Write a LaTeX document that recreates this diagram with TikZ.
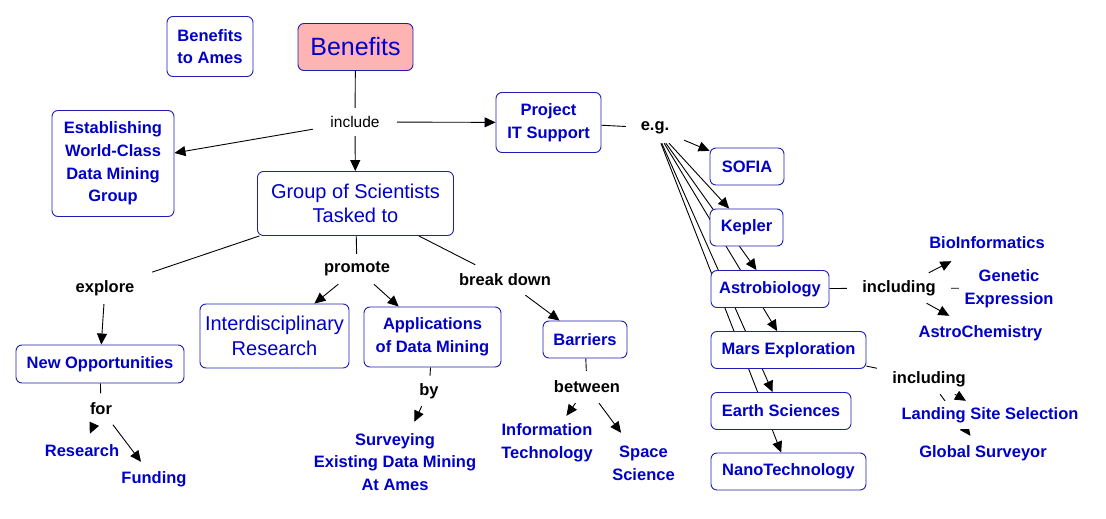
\documentclass[tikz,border=0pt]{standalone}
\usepackage{fontspec}
\setmainfont{Liberation Sans}
\usetikzlibrary{arrows.meta,backgrounds}
\definecolor{cblue}{RGB}{0,0,200}
\definecolor{bblue}{RGB}{30,30,180}
\definecolor{pinkf}{RGB}{255,180,180}
\newcommand\cmfont{\fontsize{16.5}{22.7}\selectfont\bfseries}
\newcommand\rgfont{\fontsize{20}{24.5}\selectfont}
\newcommand\lkfont{\fontsize{16.5}{20}\selectfont\bfseries}
\begin{document}
\begin{tikzpicture}[x=1pt,y=-1pt,
 box/.style={draw=bblue, line width=0.9pt, rounded corners=6pt, fill=white, text=cblue, align=center, inner sep=0pt, font=\cmfont},
 bigbox/.style={box, font=\rgfont},
 free/.style={text=cblue, align=center, inner sep=0pt, font=\cmfont},
 lnk/.style={text=black, align=center, inner sep=0pt, font=\lkfont},
 sz/.style 2 args={minimum width=#1pt, minimum height=#2pt},
 con/.style={line width=0.9pt, black},
 arr/.style={con, -{Triangle[length=11pt,width=10pt]}}
]
\useasboundingbox (0,0) rectangle (1106,519);
% concept boxes
\node[box, sz={86}{60}] (bta) at (210,46.5) {Benefits\\to Ames};
\node[box, fill=pinkf, font=\fontsize{25}{30}\selectfont, sz={115}{47}] (ben) at (355.5,47) {Benefits};
\node[box, sz={122}{106}] (est) at (113,163.5) {Establishing\\World-Class\\Data Mining\\Group};
\node[bigbox, sz={196}{64}] (grp) at (355.5,203.5) {Group of Scientists\\Tasked to};
\node[box, sz={105}{60}] (pit) at (548.5,122.5) {Project\\IT Support};
\node[box, sz={74}{37}] (sofia) at (747,166.5) {SOFIA};
\node[box, sz={73}{37}] (kep) at (746.5,227.5) {Kepler};
\node[box, sz={118}{37}] (ast) at (770,289) {Astrobiology};
\node[box, sz={155}{37}] (mars) at (788.5,350) {Mars Exploration};
\node[box, sz={140}{37}] (earth) at (781,411) {Earth Sciences};
\node[box, sz={155}{37}] (nano) at (788.5,471.5) {NanoTechnology};
\node[box, sz={168}{38}] (newop) at (100,364) {New Opportunities};
\node[bigbox, sz={149}{64}] (inter) at (274.5,336) {Interdisciplinary\\Research};
\node[box, sz={137}{60}] (apps) at (432.5,337) {Applications\\of Data Mining};
\node[box, sz={84}{37}] (barr) at (585,339.5) {Barriers};
% free concepts
\node[free, sz={84}{34}] (res) at (82,451) {Research};
\node[free, sz={76}{34}] (fund) at (154,479) {Funding};
\node[free, sz={190}{80}] (surv) at (395,462) {Surveying\\Existing Data Mining\\At Ames};
\node[free, sz={100}{54}] (it) at (547,443) {Information\\Technology};
\node[free, sz={70}{60}] (space) at (643.5,463) {Space\\Science};
\node[free, sz={120}{36}] (bio) at (987,243) {BioInformatics};
\node[free, sz={100}{50}] (gen) at (1009,288.5) {Genetic\\Expression};
\node[free, sz={130}{34}] (achem) at (980.5,333) {AstroChemistry};
\node[free, fill=white, sz={190}{28}] (land) at (990,415) {Landing Site Selection};
\node[free, sz={140}{34}] (gs) at (983,453) {Global Surveyor};
% link labels
\node[lnk, font=\fontsize{15.5}{18}\selectfont, sz={84}{28}] (inc) at (355,122) {include};
\node[lnk, sz={58}{30}] (eg) at (655,128) {e.g.};
\node[lnk, sz={94}{32}] (expl) at (105,288) {explore};
\node[lnk, sz={40}{31}] (for) at (101,409) {for};
\node[lnk, sz={80}{30}] (prom) at (357,269) {promote};
\node[lnk, sz={110}{30}] (brk) at (505,280) {break down};
\node[lnk, sz={30}{30}] (by) at (429,391) {by};
\node[lnk, sz={80}{32}] (betw) at (587,387) {between};
\node[lnk, sz={104}{30}] (inc1) at (899,288) {including};
\node[lnk, sz={104}{30}] (inc2) at (929,379) {including};
\begin{scope}[on background layer]
\fill[white] (0,0) rectangle (1106,519);
\draw[con] (ben) -- (inc);
\draw[arr] (inc) -- (est);
\draw[arr] (inc) -- (grp);
\draw[arr] (inc) -- (pit);
\draw[con] (pit) -- (eg);
\draw[arr] (eg) -- (sofia);
\draw[arr] (eg) -- (kep);
\draw[arr] (eg) -- (ast);
\draw[arr] (eg) -- (mars);
\draw[arr] (eg) -- (earth);
\draw[arr] (eg) -- (nano);
\draw[con] (ast) -- (inc1);
\draw[arr] (inc1) -- (bio);
\draw[con] (inc1) -- (gen);
\draw[arr] (inc1) -- (achem);
\draw[con] (mars) -- (inc2);
\draw[arr] (inc2) -- (land);
\draw[arr] (inc2) -- (gs);
\draw[con] (grp) -- (expl);
\draw[arr] (expl) -- (newop);
\draw[con] (newop) -- (for);
\draw[arr] (for) -- (res);
\draw[arr] (for) -- (fund);
\draw[con] (grp) -- (prom);
\draw[arr] (prom) -- (inter);
\draw[arr] (prom) -- (apps);
\draw[con] (grp) -- (brk);
\draw[arr] (brk) -- (barr);
\draw[con] (apps) -- (by);
\draw[arr] (by) -- (surv);
\draw[con] (barr) -- (betw);
\draw[arr] (betw) -- (it);
\draw[arr] (betw) -- (space);
\end{scope}
\end{tikzpicture}
\end{document}
